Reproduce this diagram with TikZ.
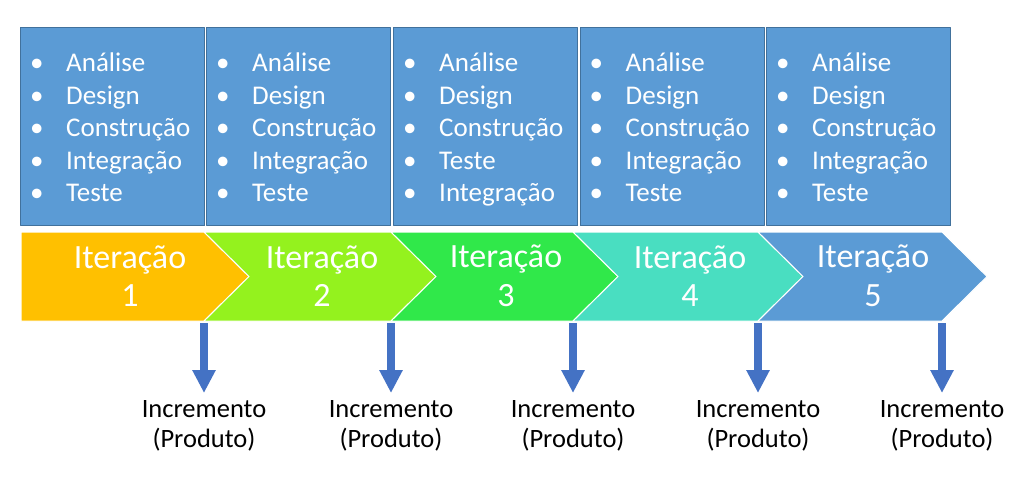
\documentclass[tikz,border=0pt]{standalone}
\usepackage{fontspec}
\setmainfont{Carlito}
\usetikzlibrary{arrows.meta}
\definecolor{caixaazul}{HTML}{5B9BD5}
\definecolor{bordaazul}{HTML}{41719C}
\definecolor{setaazul}{HTML}{4472C4}
\definecolor{itA}{HTML}{FFC000}
\definecolor{itB}{HTML}{94F21E}
\definecolor{itC}{HTML}{30E84A}
\definecolor{itD}{HTML}{49DEC1}
\definecolor{itE}{HTML}{5B9BD5}
\newcommand{\bl}[1]{\makebox[36pt][l]{\textbullet}#1}
\tikzset{
  caixa/.style={draw=bordaazul, fill=caixaazul, line width=1pt, anchor=north west,
    minimum width=184pt, minimum height=198pt, inner sep=0pt},
  lista/.style={anchor=north west, text=white, align=left, inner sep=0pt,
    font=\fontsize{27}{32.5}\selectfont},
  iter/.style={text=white, align=center, inner sep=0pt, font=\fontsize{34}{38.5}\selectfont},
  incr/.style={anchor=north, align=center, inner sep=0pt, font=\fontsize{26.5}{30.5}\selectfont},
  entrega/.style={setaazul, line width=8pt, shorten >=7pt, -{Triangle[width=22pt,length=23pt]}}
}
\begin{document}
\begin{tikzpicture}[x=1pt, y=-1pt, line join=round]
    \useasboundingbox (0,0) rectangle (1024,493);
    % fases de cada iteracao
    \foreach \i/\x/\pa/\pb/\pc/\pd/\pe in {1/20/Análise/Design/Construção/Integração/Teste,
        2/206/Análise/Design/Construção/Integração/Teste, 3/393/Análise/Design/Construção/Teste/Integração,
        4/579.5/Análise/Design/Construção/Integração/Teste, 5/766/Análise/Design/Construção/Integração/Teste}{
        \node[caixa] (cx\i) at (\x,27) {};
        \node[lista] (ls\i) at (\x+10,53) {\bl{\pa}\\\bl{\pb}\\\bl{\pc}\\\bl{\pd}\\\bl{\pe}};
    }
    % iteracoes e incrementos
    \foreach \i/\l/\r/\n/\cor/\tx in {1/21/204/0/itA/130, 2/204/391/45/itB/322, 3/391/573/45/itC/506,
        4/573/758/45/itD/690, 5/758/942/45/itE/873}{
        \fill[\cor, draw=white, line width=1pt] (\l,232) -- (\r,232) -- (\r+45,276.5) -- (\r,321)
            -- (\l,321) -- (\l+\n,276.5) -- cycle;
        \node[iter] (it\i) at (\tx,276) {Iteração\\\i};
        \coordinate (c\i) at (\r,323);
        \node[incr] (inc\i) at (\r,400) {Incremento\\(Produto)};
        \draw[entrega] (c\i) -- (inc\i.north);
    }
\end{tikzpicture}
\end{document}
